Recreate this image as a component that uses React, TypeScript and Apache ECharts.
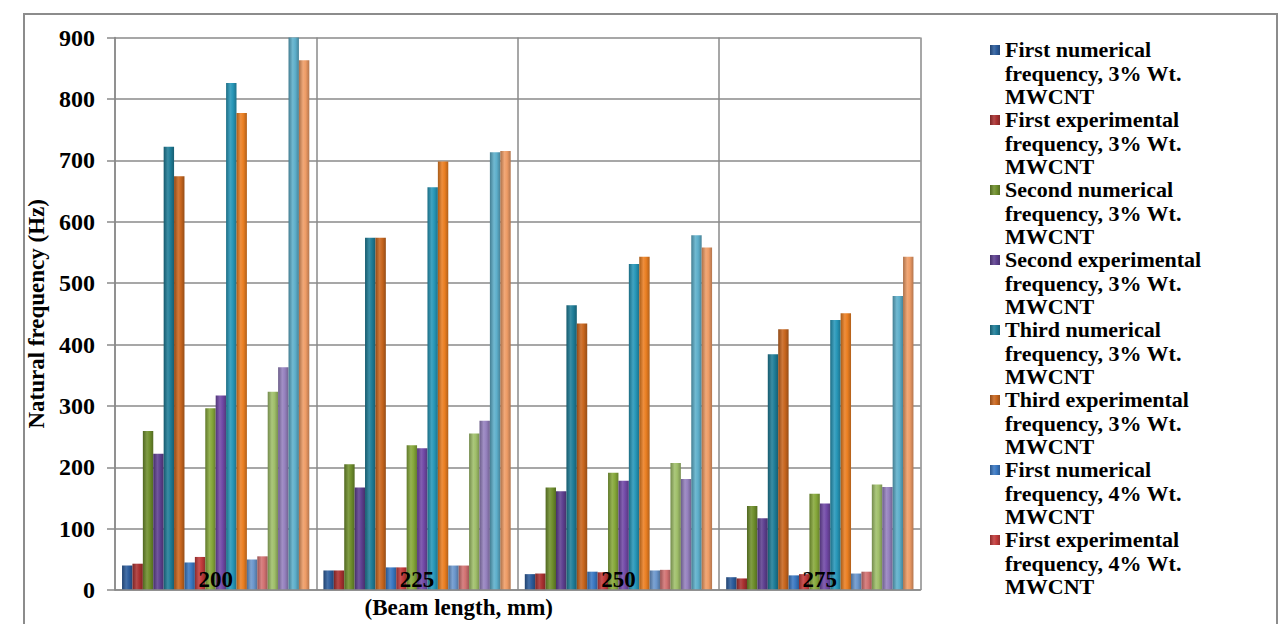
import React, { useEffect, useRef } from "react";
import * as echarts from "echarts";

const categories = ["200", "225", "250", "275"];
const yTicks = { min: 0, max: 900, interval: 100 };

const first_num_3 = [40, 32, 26, 21];
const first_exp_3 = [43, 32, 27, 19];
const second_num_3 = [259, 205, 167, 137];
const second_exp_3 = [222, 167, 161, 117];
const third_num_3 = [722, 574, 464, 384];
const third_exp_3 = [674, 574, 434, 425];

const first_num_4 = [45, 37, 30, 24];
const first_exp_4 = [54, 37, 29, 26];
const second_num_4 = [296, 236, 191, 157];
const second_exp_4 = [317, 231, 178, 141];
const third_num_4 = [826, 656, 531, 440];
const third_exp_4 = [777, 698, 543, 451];

const first_num_5 = [50, 40, 32, 27];
const first_exp_5 = [55, 40, 33, 30];
const second_num_5 = [323, 255, 207, 172];
const second_exp_5 = [363, 276, 181, 168];
const third_num_5 = [900, 713, 578, 479];
const third_exp_5 = [863, 715, 558, 543];

const seriesNames = [
  "First numerical frequency, 3% Wt. MWCNT",
  "First experimental frequency, 3% Wt. MWCNT",
  "Second numerical frequency, 3% Wt. MWCNT",
  "Second experimental frequency, 3% Wt. MWCNT",
  "Third numerical frequency, 3% Wt. MWCNT",
  "Third experimental frequency, 3% Wt. MWCNT",
  "First numerical frequency, 4% Wt. MWCNT",
  "First experimental frequency, 4% Wt. MWCNT",
  "Second numerical frequency, 4% Wt. MWCNT",
  "Second experimental frequency, 4% Wt. MWCNT",
  "Third numerical frequency, 4% Wt. MWCNT",
  "Third experimental frequency, 4% Wt. MWCNT",
  "First numerical frequency, 5% Wt. MWCNT",
  "First experimental frequency, 5% Wt. MWCNT",
  "Second numerical frequency, 5% Wt. MWCNT",
  "Second experimental frequency, 5% Wt. MWCNT",
  "Third numerical frequency, 5% Wt. MWCNT",
  "Third experimental frequency, 5% Wt. MWCNT",
];

const seriesValues = [
  first_num_3, first_exp_3, second_num_3, second_exp_3, third_num_3, third_exp_3,
  first_num_4, first_exp_4, second_num_4, second_exp_4, third_num_4, third_exp_4,
  first_num_5, first_exp_5, second_num_5, second_exp_5, third_num_5, third_exp_5,
];

const seriesColors = [
  "#2c5c9c", "#aa3131", "#6f8f2c", "#5e4090", "#1f7d98", "#c8661e",
  "#3a78c2", "#c23b3b", "#86a83a", "#7149a6", "#2797b8", "#ea7f22",
  "#6b96cc", "#d27272", "#a0bf6a", "#9581be", "#5eafcb", "#ee9c66",
];

const legendShown = 8;

function shade(hex: string, f: number): string {
  const n = parseInt(hex.slice(1), 16);
  let r = (n >> 16) & 255, g = (n >> 8) & 255, b = n & 255;
  if (f < 1) {
    r = Math.round(r * f); g = Math.round(g * f); b = Math.round(b * f);
  } else {
    const t = f - 1;
    r = Math.round(r + (255 - r) * t); g = Math.round(g + (255 - g) * t); b = Math.round(b + (255 - b) * t);
  }
  return "#" + ((1 << 24) + (r << 16) + (g << 8) + b).toString(16).slice(1);
}

const FONT = "Times New Roman, Liberation Serif, DejaVu Serif, serif";

export default function App() {
  const ref = useRef<HTMLDivElement>(null);
  useEffect(() => {
    if (!ref.current) return;
    const chart = echarts.init(ref.current, null, { renderer: "svg" });
    const series = seriesNames.map((name, i) => ({
      name,
      type: "bar",
      data: seriesValues[i],
      barGap: "0%",
      barCategoryGap: "7%",
      itemStyle: {
        color: new echarts.graphic.LinearGradient(0, 0, 1, 0, [
          { offset: 0, color: shade(seriesColors[i], 0.72) },
          { offset: 0.4, color: shade(seriesColors[i], 1.12) },
          { offset: 0.65, color: seriesColors[i] },
          { offset: 1, color: shade(seriesColors[i], 0.75) },
        ]),
      },
    }));
    const option = {
      animation: false,
      backgroundColor: "#ffffff",
      textStyle: { fontFamily: FONT },
      grid: { left: 115, right: 363.5, top: 37.5, bottom: 27 },
      legend: {
        data: seriesNames.slice(0, legendShown),
        orient: "vertical",
        left: 985,
        top: 33.3,
        itemGap: 0,
        itemWidth: 10,
        itemHeight: 70,
        icon: "path://M0,0M0,6.7h10v10h-10zM0,70",
        selectedMode: false,
        formatter: (n: string) => n.replace(" frequency, ", "\nfrequency, ").replace(" MWCNT", "\nMWCNT"),
        textStyle: {
          fontFamily: FONT,
          fontWeight: "bold",
          fontSize: 22,
          lineHeight: 23.33,
          color: "#000",
        },
      },
      xAxis: {
        type: "category",
        data: categories,
        z: 10,
        name: "(Beam length, mm)",
        nameLocation: "middle",
        nameGap: 5,
        nameTextStyle: {
          fontFamily: FONT,
          fontWeight: "bold",
          fontSize: 23,
          color: "#000",
          verticalAlign: "top",
          padding: [0, 118, 0, 0],
        },
        axisLine: { show: true, lineStyle: { color: "#8a8a8a", width: 1.5 } },
        axisTick: { show: false },
        axisLabel: {
          margin: 1,
          verticalAlign: "bottom",
          fontFamily: FONT,
          fontWeight: "bold",
          fontSize: 23,
          color: "#000",
        },
        splitLine: { show: true, lineStyle: { color: "#8a8a8a", width: 1.5 } },
      },
      yAxis: {
        type: "value",
        min: yTicks.min,
        max: yTicks.max,
        interval: yTicks.interval,
        name: "Natural frequency (Hz)",
        nameLocation: "middle",
        nameGap: 58,
        nameTextStyle: {
          fontFamily: FONT,
          fontWeight: "bold",
          fontSize: 23,
          color: "#000",
        },
        axisLine: { show: true, lineStyle: { color: "#8a8a8a", width: 1.5 } },
        axisTick: { show: true, length: 8, lineStyle: { color: "#8a8a8a", width: 1.5 } },
        axisLabel: {
          margin: 20,
          fontFamily: FONT,
          fontWeight: "bold",
          fontSize: 24,
          color: "#000",
        },
        splitLine: { show: true, lineStyle: { color: "#8a8a8a", width: 1.5 } },
      },
      graphic: [
        {
          type: "rect",
          silent: true,
          z: -10,
          shape: { x: 24, y: 14, width: 1253, height: 700 },
          style: { fill: "none", stroke: "#8c8c8c", lineWidth: 2 },
        },
      ],
      series,
    };
    chart.setOption(option as any);
    return () => chart.dispose();
  }, []);
  return (
    <div
      ref={ref}
      style={{ position: "fixed", left: 0, top: 0, width: 1284, height: 624, background: "#fff" }}
    />
  );
}
